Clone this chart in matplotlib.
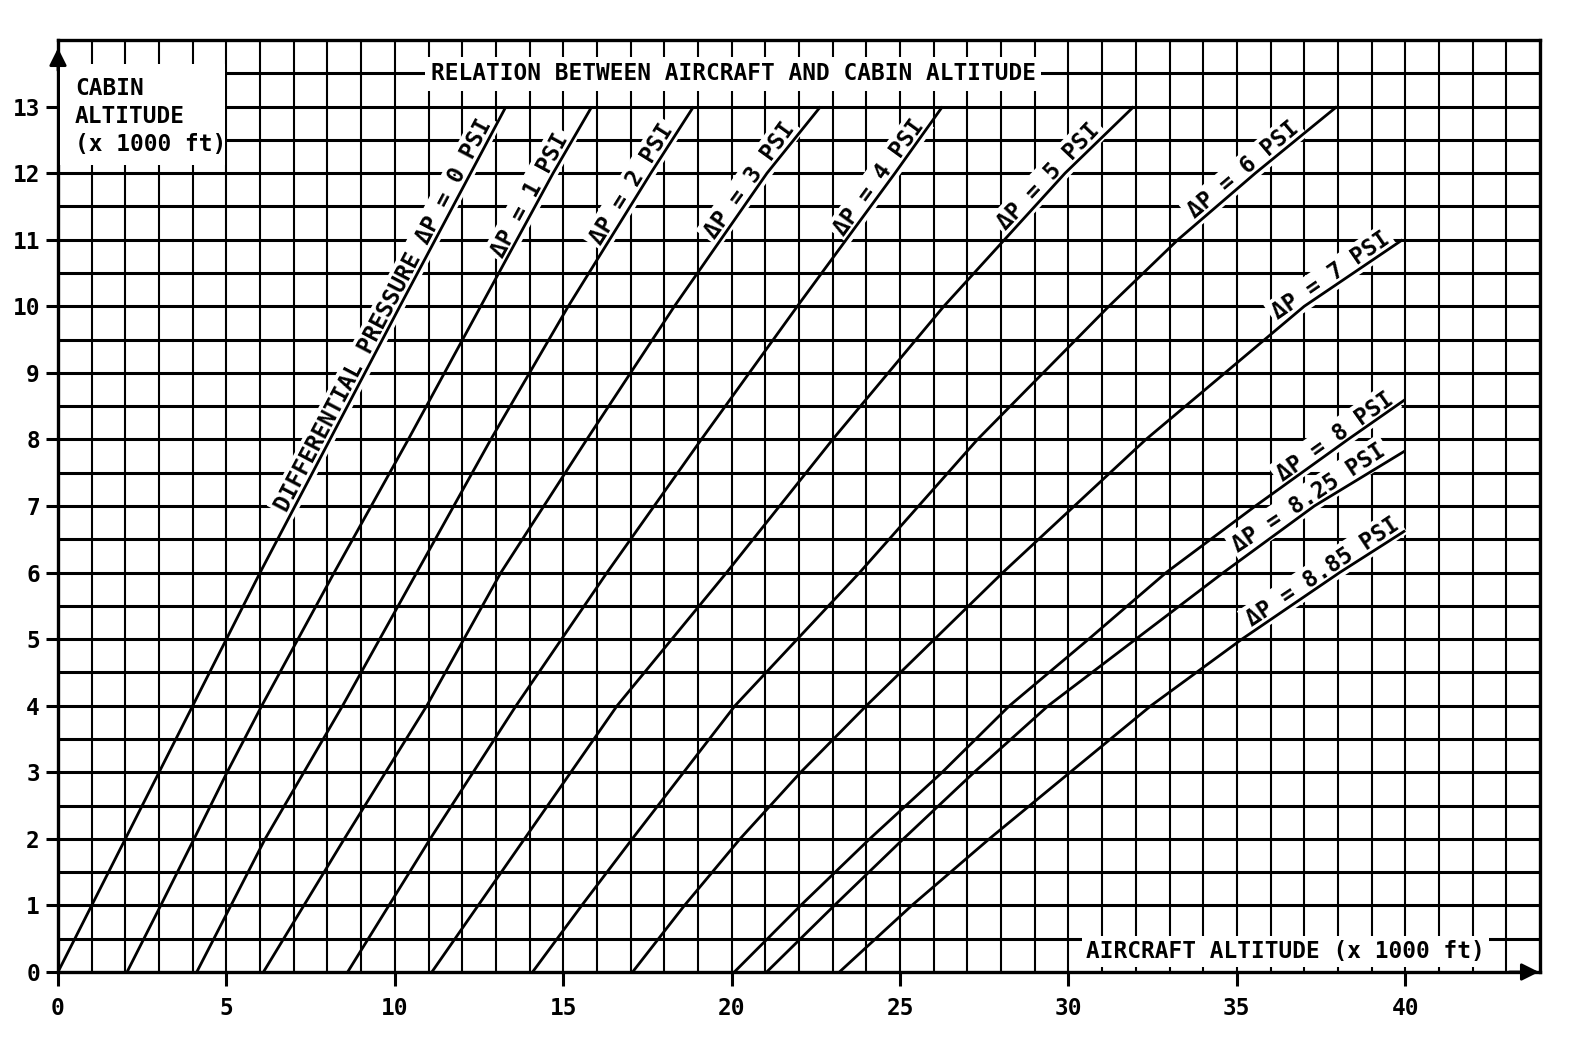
import numpy as np
import matplotlib
matplotlib.use("Agg")
import matplotlib.pyplot as plt
from matplotlib.patches import Rectangle

# ---------------- data (aircraft altitude vs cabin altitude, x 1000 ft) ----------------
dp_names = ["0", "1", "2", "3", "4", "5", "6", "7", "8", "8.25", "8.85"]

ac_dp0 = [0.0, 6.0, 10.15, 13.3]
cab_dp0 = [0, 6, 10, 13]

ac_dp1 = [2.05, 3.05, 4.04, 5.02, 6.05, 8.2, 10.4, 12.55, 14.7, 15.85]
cab_dp1 = [0, 1, 2, 3, 4, 6, 8, 10, 12, 13]

ac_dp2 = [4.12, 6.15, 8.45, 10.65, 12.85, 15.15, 17.6, 18.87]
cab_dp2 = [0, 2, 4, 6, 8, 10, 12, 13]

ac_dp3 = [6.1, 8.5, 10.95, 13.15, 15.7, 18.3, 21.05, 22.64]
cab_dp3 = [0, 2, 4, 6, 8, 10, 12, 13]

ac_dp4 = [8.6, 11.05, 13.6, 16.3, 19.1, 21.95, 24.85, 26.26]
cab_dp4 = [0, 2, 4, 6, 8, 10, 12, 13]

ac_dp5 = [11.1, 13.85, 16.6, 19.85, 23.0, 26.3, 29.9, 31.94]
cab_dp5 = [0, 2, 4, 6, 8, 10, 12, 13]

ac_dp6 = [14.09, 15.55, 17.05, 20.1, 23.8, 27.3, 31.2, 33.25, 35.55, 37.97]
cab_dp6 = [0, 1, 2, 4, 6, 8, 10, 11, 12, 13]

ac_dp7 = [17.06, 18.6, 20.25, 22.05, 24.0, 28.05, 32.3, 37.0, 39.92]
cab_dp7 = [0, 1, 2, 3, 4, 6, 8, 10, 11.0]

ac_dp8 = [20.08, 22.05, 24.1, 26.25, 28.25, 30.6, 32.9, 35.55, 38.3, 40.0]
cab_dp8 = [0, 1, 2, 3, 4, 5, 6, 7, 8, 8.6]

ac_dp825 = [21.04, 23.05, 25.1, 27.2, 29.4, 32.0, 34.6, 37.3, 40.0]
cab_dp825 = [0, 1, 2, 3, 4, 5, 6, 7, 7.83]

ac_dp885 = [23.2, 25.35, 27.65, 30.05, 32.45, 35.15, 38.05, 40.0]
cab_dp885 = [0, 1, 2, 3, 4, 5, 6, 6.63]

curves_ac = [ac_dp0, ac_dp1, ac_dp2, ac_dp3, ac_dp4, ac_dp5, ac_dp6, ac_dp7,
             ac_dp8, ac_dp825, ac_dp885]
curves_cab = [cab_dp0, cab_dp1, cab_dp2, cab_dp3, cab_dp4, cab_dp5, cab_dp6, cab_dp7,
              cab_dp8, cab_dp825, cab_dp885]

label_texts = ["DIFFERENTIAL PRESSURE \u0394P = 0 PSI"] + \
              ["\u0394P = %s PSI" % n for n in dp_names[1:]]
label_cab = [9.8, 11.6, 11.75, 11.8, 11.85, 11.85, 11.93, 10.33, 7.92, 7.0, 5.88]

x_ticks = [0, 5, 10, 15, 20, 25, 30, 35, 40]
y_ticks = list(range(0, 14))

title_text = "RELATION BETWEEN AIRCRAFT AND CABIN ALTITUDE"
ylab_lines = ["CABIN", "ALTITUDE", "(x 1000 ft)"]
xlab_text = "AIRCRAFT ALTITUDE (x 1000 ft)"

# ---------------- figure ----------------
W, H = 1571, 1060
fig = plt.figure(figsize=(W / 100, H / 100), dpi=100)
fig.patch.set_facecolor("white")
ax = fig.add_axes([58 / W, 88 / H, (1540 - 58) / W, (972 - 40) / H])
ax.set_xlim(0, 44)
ax.set_ylim(0, 14)

FONT = ["DejaVu Sans Mono", "DejaVu Sans"]
FS = 16.4

# grid
for gx in np.arange(1, 44, 1):
    ax.axvline(gx, color="black", lw=1.5, zorder=1)
for gy in np.arange(0.5, 14, 0.5):
    ax.axhline(gy, color="black", lw=2.2, zorder=1)

for s in ax.spines.values():
    s.set_linewidth(2.4)
    s.set_zorder(1.5)

ax.set_xticks(x_ticks)
ax.set_yticks(y_ticks)
ax.set_xticklabels([str(v) for v in x_ticks])
ax.set_yticklabels([str(v) for v in y_ticks])
ax.tick_params(axis="x", direction="out", length=10, width=2.2, pad=8)
ax.tick_params(axis="y", direction="out", length=9, width=2.2, pad=4)
for lab in ax.get_xticklabels() + ax.get_yticklabels():
    lab.set_family(FONT)
    lab.set_fontweight("bold")
    lab.set_fontsize(FS)

# curves
for xs, ys in zip(curves_ac, curves_cab):
    ax.plot(xs, ys, color="black", lw=2.0, zorder=3, solid_capstyle="butt")

# rotated labels along curves
for xs, ys, txt, yc in zip(curves_ac, curves_cab, label_texts, label_cab):
    xc = np.interp(yc, ys, xs)
    x1 = np.interp(yc - 0.4, ys, xs)
    x2 = np.interp(yc + 0.4, ys, xs)
    p1 = ax.transData.transform((x1, yc - 0.4))
    p2 = ax.transData.transform((x2, yc + 0.4))
    ang = np.degrees(np.arctan2(p2[1] - p1[1], p2[0] - p1[0]))
    a = np.radians(ang)
    d = 2.5
    ax.annotate(txt, xy=(xc, yc), xytext=(-np.sin(a) * d, np.cos(a) * d),
                textcoords="offset points", rotation=ang, rotation_mode="anchor",
                ha="center", va="baseline", family=FONT, fontweight="bold",
                fontsize=FS, zorder=2.5,
                bbox=dict(facecolor="white", edgecolor="none", pad=2.5))

# title
ax.text(20.05, 13.49, title_text, ha="center", va="center", family=FONT,
        fontweight="bold", fontsize=FS, zorder=2.5,
        bbox=dict(facecolor="white", edgecolor="none", pad=4))

# y axis label block
ax.add_patch(Rectangle((0.06, 12.12), 4.9, 1.52, facecolor="white",
                       edgecolor="none", zorder=2))
for i, line in enumerate(ylab_lines):
    ax.text(0.5, 13.27 - i * 0.42, line, ha="left", va="center", family=FONT,
            fontweight="bold", fontsize=FS, zorder=2.5)

# x axis label
ax.text(36.43, 0.31, xlab_text, ha="center", va="center", family=FONT,
        fontweight="bold", fontsize=FS, zorder=2.5,
        bbox=dict(facecolor="white", edgecolor="none", pad=3))

# axis arrows
ax.annotate("", xy=(0, 13.92), xytext=(0, 13.5),
            arrowprops=dict(arrowstyle="-|>", color="black", lw=2,
                            mutation_scale=26), zorder=4, annotation_clip=False)
ax.annotate("", xy=(44.05, 0), xytext=(43.0, 0),
            arrowprops=dict(arrowstyle="-|>", color="black", lw=2,
                            mutation_scale=26), zorder=4, annotation_clip=False)

fig.savefig("out.png", dpi=100, facecolor="white")
